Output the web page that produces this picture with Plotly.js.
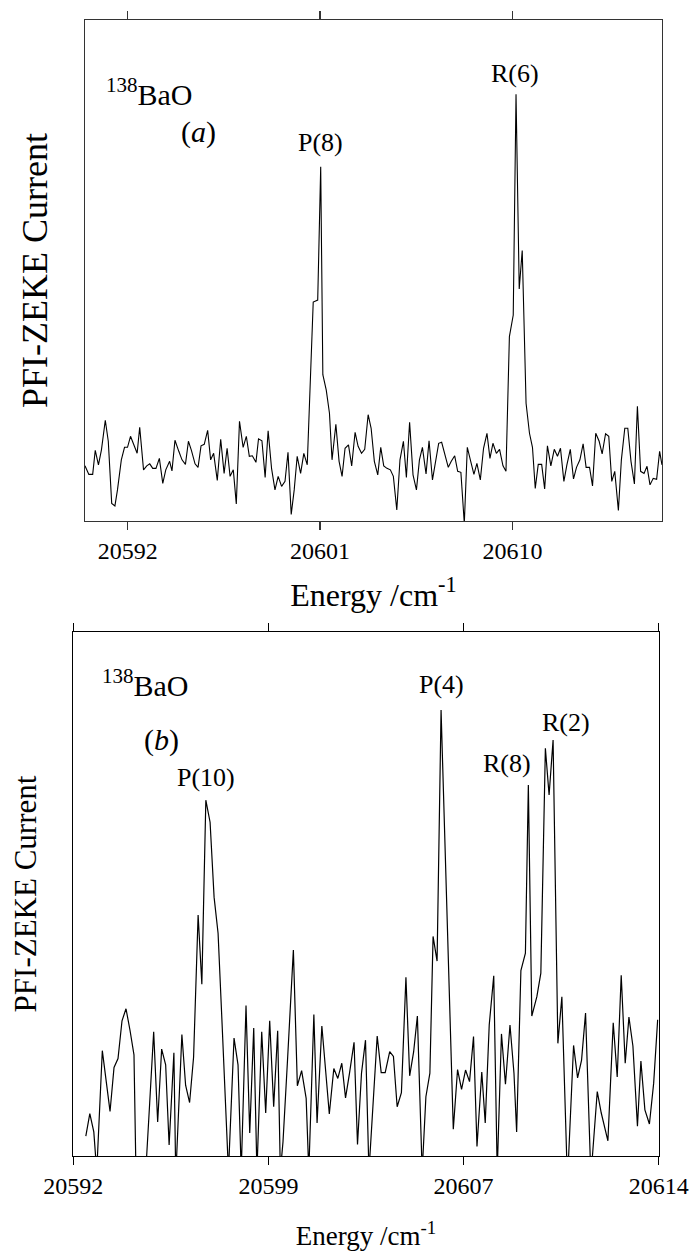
<!DOCTYPE html>
<html><head><meta charset="utf-8">
<script src="https://cdn.plot.ly/plotly-3.0.1.min.js"></script>
<style>html,body{margin:0;padding:0;background:#fff;}#chart{width:691px;height:1258px;}</style>
</head><body><div id="chart"></div>
<script>
// Panel (a): energy (cm-1) and PFI-ZEKE current (arb. units)
const topEnergy = [20590.00,20590.18,20590.36,20590.48,20590.63,20590.77,20590.95,20591.09,20591.25,20591.40,20591.52,20591.70,20591.85,20591.99,20592.13,20592.28,20592.44,20592.56,20592.74,20592.89,20593.03,20593.17,20593.32,20593.48,20593.64,20593.78,20593.96,20594.07,20594.21,20594.39,20594.54,20594.70,20594.84,20594.98,20595.15,20595.29,20595.43,20595.58,20595.74,20595.88,20596.02,20596.19,20596.35,20596.51,20596.65,20596.79,20596.94,20597.08,20597.23,20597.40,20597.55,20597.69,20597.83,20598.00,20598.12,20598.28,20598.43,20598.57,20598.73,20598.89,20599.04,20599.20,20599.36,20599.50,20599.65,20599.79,20599.93,20600.09,20600.24,20600.40,
20600.68,20600.89,20601.03,20601.13,
20601.29,20601.44,20601.56,20601.74,20601.89,20602.03,20602.17,20602.33,20602.48,20602.64,20602.78,20602.94,20603.09,20603.25,20603.39,20603.54,20603.70,20603.84,20603.98,20604.13,20604.29,20604.43,20604.59,20604.74,20604.90,20605.04,20605.19,20605.35,20605.51,20605.65,20605.79,20605.96,20606.10,20606.26,20606.40,20606.55,20606.69,20606.85,20607.00,20607.14,20607.30,20607.44,20607.59,20607.75,20607.89,20608.05,20608.20,20608.34,20608.50,20608.65,20608.81,20608.95,20609.09,20609.25,20609.40,20609.56,20609.70,
20609.86,20610.04,20610.17,20610.32,20610.46,20610.64,20610.80,20610.94,
20611.07,20611.21,20611.37,20611.51,20611.64,20611.80,20611.96,20612.11,20612.25,20612.41,20612.55,20612.71,20612.86,20613.00,20613.16,20613.31,20613.45,20613.61,20613.75,20613.90,20614.06,20614.20,20614.36,20614.51,20614.65,20614.79,20614.96,20615.10,20615.26,20615.40,20615.55,20615.71,20615.85,20616.00,20616.16,20616.30,20616.44,20616.59,20616.75,20616.89,20617.00];
const topSignal = [11.0,9.3,9.3,14.1,11.2,14.2,20.1,15.9,3.5,3.0,6.2,12.2,14.7,14.7,16.9,15.2,13.5,18.7,10.2,11.0,11.4,10.5,10.5,12.5,7.5,10.2,11.9,10.0,16.1,13.9,12.2,11.3,15.9,14.1,11.4,10.7,15.0,15.3,18.1,12.2,13.5,8.1,16.3,9.5,14.5,8.9,10.2,3.4,19.9,14.7,16.9,12.9,13.0,11.7,16.4,16.0,8.7,18.0,10.5,6.2,8.9,6.9,7.9,13.7,1.3,6.2,12.9,9.5,13.5,11.2,
43.7,44.1,70.7,29.2,
26.1,21.5,12.2,19.3,11.9,8.9,14.5,15.2,11.0,17.7,14.9,13.5,14.3,21.2,18.5,11.9,9.2,14.7,11.0,10.5,10.2,8.9,2.2,12.2,15.9,8.7,19.7,9.2,6.2,12.2,14.7,9.4,16.0,8.2,12.2,15.5,15.7,12.9,10.7,11.9,13.0,9.9,9.7,-0.5,14.7,11.9,9.3,11.5,8.2,14.5,17.5,12.5,15.5,13.5,14.3,11.0,9.9,
36.8,41.1,85.2,46.3,54.0,23.5,17.5,14.7,
6.5,11.3,11.3,6.4,15.0,11.0,14.3,12.9,14.5,7.9,11.2,14.3,8.4,10.7,12.2,15.4,10.7,10.7,7.0,17.5,15.9,13.4,17.4,16.9,7.9,9.9,2.1,12.2,18.5,18.5,11.9,7.4,22.9,9.9,9.5,10.9,7.2,8.5,8.3,13.9,11.2];

// Panel (b)
const botEnergy = [20592.47,20592.62,20592.77,20592.88,20593.09,20593.23,20593.38,20593.53,20593.68,20593.83,20593.98,20594.13,20594.28,20594.36,20594.70,20594.87,20595.02,20595.17,20595.32,20595.47,20595.60,20595.78,20595.85,20596.08,20596.22,20596.37,20596.52,20596.69,20596.83,20596.98,20597.14,20597.29,20597.44,20597.59,20597.83,20598.04,20598.19,20598.31,20598.49,20598.63,20598.78,20598.90,20599.08,20599.23,20599.38,20599.53,20599.68,20599.78,20599.88,20600.05,20600.27,20600.42,20600.58,20600.75,20600.85,20601.04,20601.16,20601.34,20601.49,20601.62,20601.79,20601.94,20602.09,20602.23,20602.38,20602.55,20602.68,20602.83,20602.98,20603.11,20603.42,20603.57,20603.72,20603.89,20604.03,20604.17,20604.33,20604.50,20604.64,20604.79,20604.93,20605.11,20605.25,20605.40,20605.52,20605.67,20605.82,20606.28,20606.44,20606.59,20606.74,20606.89,20607.04,20607.17,20607.35,20607.48,20607.63,20607.80,20607.93,20608.09,20608.24,20608.41,20608.56,20608.66,20608.82,20608.99,20609.10,20609.23,20609.42,20609.57,20609.74,20609.88,20610.03,20610.21,20610.36,20610.57,20610.80,20610.95,20611.10,20611.25,20611.45,20611.69,20611.84,20612.09,20612.29,20612.44,20612.59,20612.74,20612.88,20613.03,20613.20,20613.33,20613.48,20613.65,20613.81,20613.96];
const botSignal = [3.8,8.1,4.6,-3,20.1,13.9,8.5,16.9,18.6,25.8,28.1,24.0,19.3,-5,-5,10.1,23.7,6.5,20.4,17.4,2.1,19.7,-4,23.2,13.5,10.2,18.9,46.0,32.8,67.9,63.7,49.4,42.5,25.3,-3,22.5,17.4,-3,28.7,4.4,24.4,-3,23.7,8.2,25.8,9.4,23.9,-3,2.7,18.3,39.3,13.4,16.3,11.0,-3,27.0,6.3,24.8,15.8,8.0,16.7,14.8,17.7,11.1,15.8,21.7,2.2,15.8,22.1,-3,22.9,15.9,15.9,19.9,19.0,9.4,12.1,34.1,15.3,19.9,26.7,-3,11.3,15.8,41.9,37.2,85.1,5.1,16.5,12.7,16.4,14.2,22.8,1.8,16.0,6.3,25.0,34.4,-3,23.3,13.7,25.0,15.8,4.6,35.4,38.7,70.8,26.7,30.4,34.9,77.8,68.9,79.4,21.5,30.4,-5,21.1,14.9,18.3,27.3,-4,12.3,8.2,2.9,25.4,15.1,34.5,17.7,26.5,21.0,5.7,18.1,8.8,6.1,13.9,26.0];

const topTickVals = [20592, 20601, 20610];
const topTickText = ['20592', '20601', '20610'];
const botTickVals = [20592, 20599.333, 20606.667, 20614];
const botTickText = ['20592', '20599', '20607', '20614'];

const topLabels = ['<sup>138</sup>BaO', '(<i>a</i>)', 'P(8)', 'R(6)'];
const topLabelX = [20593.0, 20595.3, 20601.0, 20610.1];
const topLabelY = [85.6, 77.6, 75.6, 89.4];
const botLabels = ['<sup>138</sup>BaO', '(<i>b</i>)', 'P(10)', 'P(4)', 'R(8)', 'R(2)'];
const botLabelX = [20594.7, 20595.3, 20597.0, 20605.85, 20608.3, 20610.5];
const botLabelY = [90.3, 79.4, 72.3, 89.9, 75.0, 82.8];

const serif = '"Liberation Serif", "Times New Roman", Times, serif';

const traces = [
  {x: topEnergy, y: topSignal, xaxis: 'x', yaxis: 'y', mode: 'lines', line: {color: '#000', width: 1.1}, hoverinfo: 'skip'},
  {x: botEnergy, y: botSignal, xaxis: 'x2', yaxis: 'y2', mode: 'lines', line: {color: '#000', width: 1.2}, hoverinfo: 'skip'}
];

const annotations = [];
topLabels.forEach((t, i) => annotations.push({
  text: t, x: topLabelX[i], y: topLabelY[i], xref: 'x', yref: 'y', showarrow: false,
  xanchor: 'center', yanchor: 'middle',
  font: {family: serif, size: (i < 2 ? 30 : 26), color: '#000'}
}));
botLabels.forEach((t, i) => annotations.push({
  text: t, x: botLabelX[i], y: botLabelY[i], xref: 'x2', yref: 'y2', showarrow: false,
  xanchor: 'center', yanchor: 'middle',
  font: {family: serif, size: (i < 2 ? 30 : 26), color: '#000'}
}));

const layout = {
  width: 691, height: 1258,
  margin: {l: 0, r: 0, t: 0, b: 0},
  paper_bgcolor: '#fff', plot_bgcolor: '#fff',
  showlegend: false,
  font: {family: serif, color: '#000'},
  xaxis: {
    domain: [0.1230, 0.9580], anchor: 'y', range: [20590, 20617],
    showline: true, linecolor: '#333', linewidth: 1.3, mirror: 'ticks',
    ticks: 'outside', ticklen: 8, tickwidth: 1.3, tickcolor: '#333',
    tickvals: topTickVals, ticktext: topTickText,
    showgrid: false, zeroline: false,
    tickfont: {family: serif, size: 24, color: '#000'},
    title: {text: 'Energy /cm<sup>-1</sup>', font: {family: serif, size: 32, color: '#000'}, standoff: 20}
  },
  yaxis: {
    domain: [0.5859, 0.9841], anchor: 'x', range: [0, 100],
    showline: true, linecolor: '#333', linewidth: 1.3, mirror: true,
    ticks: '', showticklabels: false, showgrid: false, zeroline: false,
    title: {text: 'PFI-ZEKE Current', font: {family: serif, size: 36, color: '#000'}, standoff: 25}
  },
  xaxis2: {
    domain: [0.1061, 0.9533], anchor: 'y2', range: [20592, 20614],
    showline: true, linecolor: '#000', linewidth: 1.2, mirror: 'ticks',
    ticks: 'outside', ticklen: 8, tickwidth: 1.2, tickcolor: '#000',
    tickvals: botTickVals, ticktext: botTickText,
    showgrid: false, zeroline: false,
    tickfont: {family: serif, size: 24, color: '#000'},
    title: {text: 'Energy /cm<sup>-1</sup>', font: {family: serif, size: 27, color: '#000'}, standoff: 28}
  },
  yaxis2: {
    domain: [0.0811, 0.4976], anchor: 'x2', range: [0, 100],
    showline: true, linecolor: '#000', linewidth: 1.2, mirror: true,
    ticks: '', showticklabels: false, showgrid: false, zeroline: false,
    title: {text: 'PFI-ZEKE Current', font: {family: serif, size: 31, color: '#000'}, standoff: 26}
  },
  annotations: annotations
};

Plotly.newPlot('chart', traces, layout, {staticPlot: true, displayModeBar: false});
</script>
</body></html>
